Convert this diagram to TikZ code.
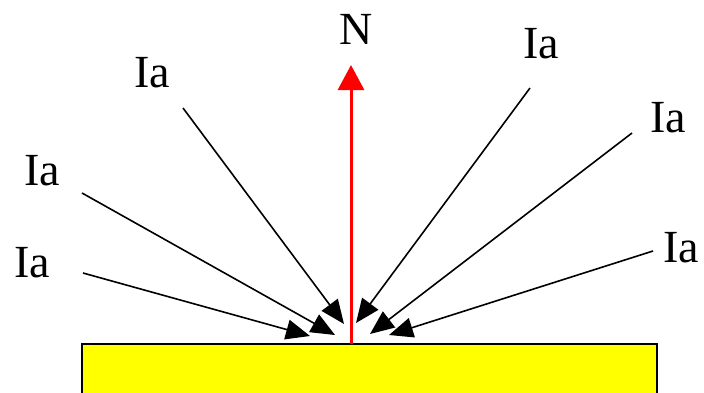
\documentclass[tikz,border=0pt]{standalone}
\usepackage{fontspec}
\setmainfont{Liberation Serif}
\usepackage{xcolor}
\definecolor{surfaceYellow}{HTML}{FFFF00}
\definecolor{normalRed}{HTML}{FF0000}
\usepackage{tikz}
\usetikzlibrary{
    arrows.meta,
    positioning
}
\tikzset{
    % Base style for the text labels
    ray label/.style={
        font=\fontsize{23}{26}\selectfont,
        anchor=base,
        inner sep=0pt,
        text=black,
    },
    % Incoming light rays - thin black with filled tip
    ray/.style={
        -{Triangle[length=12pt, width=10pt]},
        line width=0.8pt,
        draw=black,
    },
    % Surface normal - thick red arrow
    normal/.style={
        -{Triangle[length=12.5pt, width=13pt]},
        line width=1.5pt,
        draw=normalRed,
    },
    % Lit surface - yellow slab
    surface/.style={
        fill=surfaceYellow,
        draw=black,
        line width=0.75pt,
    },
}

\begin{document}
\begin{tikzpicture}[x=0.5pt, y=-0.5pt]
    \useasboundingbox (0,0) rectangle (704,392);

    % surface
    \draw [surface] (82,344) rectangle (657,400);

    % normal
    \coordinate (foot) at (351,344);
    \coordinate (tip) at (351,65);
    \draw [normal] (foot) -- (tip);
    \node (n_label) [ray label] at (356,44) {N};

    % labels
    \node (ia_1) [ray label] at (32,277) {Ia};
    \node (ia_2) [ray label] at (42,185) {Ia};
    \node (ia_3) [ray label] at (152,87) {Ia};
    \node (ia_4) [ray label] at (541,58) {Ia};
    \node (ia_5) [ray label] at (668,132) {Ia};
    \node (ia_6) [ray label] at (681,262) {Ia};

    % ray ends
    \coordinate (from_1) at (83,273);
    \coordinate (from_2) at (82,193);
    \coordinate (from_3) at (183,108);
    \coordinate (from_4) at (530,88);
    \coordinate (from_5) at (632,133);
    \coordinate (from_6) at (653,251);
    \coordinate (hit_1) at (310,336);
    \coordinate (hit_2) at (335,335);
    \coordinate (hit_3) at (344,324);
    \coordinate (hit_4) at (356,323);
    \coordinate (hit_5) at (370,334);
    \coordinate (hit_6) at (389,335);

    \draw [ray] (from_1) -- (hit_1);
    \draw [ray] (from_2) -- (hit_2);
    \draw [ray] (from_3) -- (hit_3);
    \draw [ray] (from_4) -- (hit_4);
    \draw [ray] (from_5) -- (hit_5);
    \draw [ray] (from_6) -- (hit_6);
\end{tikzpicture}
\end{document}
